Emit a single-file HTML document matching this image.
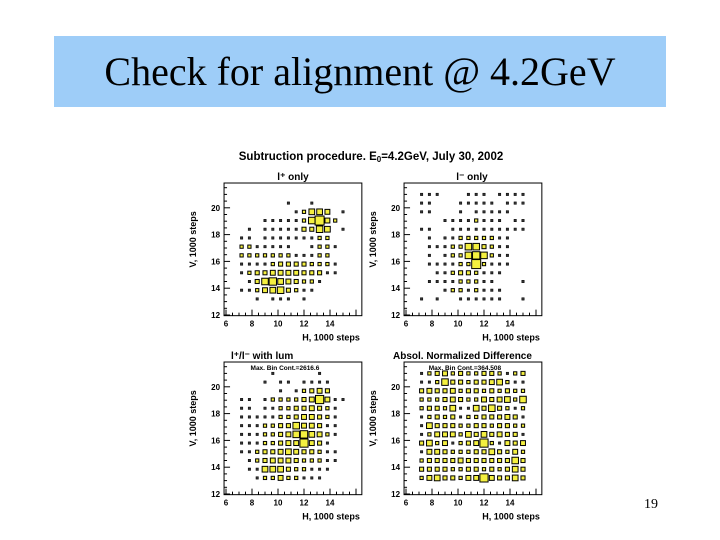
<!DOCTYPE html>
<html><head><meta charset="utf-8">
<style>
html,body{margin:0;padding:0;background:#fff;width:720px;height:540px;overflow:hidden}
#title{position:absolute;left:54px;top:36px;width:612px;height:71px;background:#9ecdf8;font-family:"Liberation Serif",serif;font-size:40px;text-align:center;line-height:71px;color:#000}
#pg{position:absolute;left:644px;top:497px;font-family:"Liberation Serif",serif;font-size:14px}
svg{position:absolute;left:0;top:0}
svg text{font-family:"Liberation Sans",sans-serif;font-weight:bold}
</style></head><body>
<div id="title">Check for alignment @ 4.2GeV</div>
<div id="pg">19</div>
<svg id="s" width="720" height="540">
<text x="371" y="160" font-size="11.5" text-anchor="middle">Subtruction procedure. E<tspan font-size="8" dy="2">0</tspan><tspan dy="-2">=4.2GeV, July 30, 2002</tspan></text>
</svg>
<script>
const xTicks=[6,8,10,12,14];
const yTicks=[12,14,16,18,20];
const binX=[7.2,7.8,8.4,9.0,9.6,10.2,10.8,11.4,12.0,12.6,13.2,13.8,14.4,15.0];
const binY=[21.0,20.35,19.7,19.05,18.4,17.75,17.1,16.45,15.8,15.15,14.5,13.85,13.2];
const lplus=[
[0,0,0,0,0,0,0,0,0,0,0,0,0,0],
[0,0,0,0,0,0,1,0,0,1,0,0,0,0],
[0,0,0,0,0,0,0,1,2,5,5,4,0,1],
[0,0,0,1,1,1,1,1,2,6,9,4,2,0],
[0,1,0,1,1,1,1,1,3,3,6,5,0,1],
[1,1,0,1,1,1,1,1,1,1,2,2,0,0],
[2,2,1,1,1,1,1,0,0,1,2,2,1,0],
[2,2,2,2,2,2,2,1,1,1,2,2,0,0],
[1,1,1,1,2,3,3,3,3,2,2,2,1,0],
[1,2,3,3,4,4,4,4,3,3,3,1,1,0],
[0,1,3,6,7,5,4,3,2,2,1,0,0,0],
[1,1,2,4,5,6,3,2,1,1,0,0,0,0],
[0,0,1,0,1,1,1,0,1,0,0,0,0,0]];
const lminus=[
[1,1,1,0,0,0,1,1,1,0,1,1,1,1],
[1,1,0,0,0,1,1,1,1,1,0,1,1,1],
[1,1,0,0,0,1,0,1,1,1,1,1,0,0],
[0,0,0,1,1,1,1,2,1,1,1,0,1,1],
[1,1,0,0,1,1,1,1,1,1,1,1,1,1],
[0,1,0,1,1,2,2,2,2,2,1,1,0,0],
[0,1,1,1,2,2,6,6,3,2,1,1,0,0],
[0,1,0,1,2,2,6,7,6,2,1,1,0,0],
[0,1,1,1,1,2,2,9,2,1,1,1,0,0],
[0,0,1,1,2,3,3,2,1,1,1,0,0,0],
[0,1,1,1,1,2,2,2,1,1,0,0,0,1],
[0,0,0,1,2,2,1,2,1,1,1,0,0,0],
[1,0,1,0,0,1,1,1,1,1,1,0,0,1]];
const lum=[
[0,0,0,0,1,0,0,0,0,0,1,0,0,0],
[0,0,0,1,0,1,1,0,1,1,1,1,0,0],
[0,0,0,0,0,1,0,1,2,3,4,3,0,0],
[1,1,0,1,2,2,2,2,3,4,8,4,1,1],
[1,1,0,1,1,2,2,3,3,4,3,2,1,0],
[1,1,1,1,1,2,2,3,4,4,3,2,1,0],
[1,1,1,2,2,3,3,6,4,4,3,1,1,0],
[1,1,1,2,2,3,4,6,7,5,4,2,1,0],
[1,1,1,2,2,3,4,4,8,4,3,1,0,0],
[1,1,2,3,3,4,5,4,3,3,2,1,1,0],
[0,1,2,3,4,4,4,3,2,2,2,1,1,0],
[0,1,1,5,5,5,3,2,2,1,1,1,0,0],
[0,0,1,2,2,4,2,2,1,1,1,0,0,0]];
const diff=[
[1,2,3,4,2,3,2,2,3,3,2,1,2,3],
[1,1,2,6,3,3,2,3,3,4,5,2,1,1],
[3,4,3,3,4,2,3,3,2,3,2,3,2,2],
[2,2,2,3,4,3,2,2,4,3,4,5,2,6],
[2,3,3,2,5,1,1,5,3,6,3,2,1,2],
[1,2,3,2,3,1,2,2,3,3,3,4,3,1],
[1,5,3,3,3,2,2,3,3,2,3,3,2,2],
[1,2,4,4,4,2,5,3,5,3,4,3,3,1],
[3,5,2,4,1,2,3,4,8,2,1,4,3,4],
[1,4,4,3,2,2,2,3,3,5,3,2,4,2],
[2,3,3,3,3,4,3,3,3,3,3,3,6,3],
[3,3,3,3,2,2,3,3,2,3,2,3,5,3],
[2,4,5,3,3,2,4,4,8,4,3,3,5,3]];
const panels=[
 {name:'lplus-panel',data:lplus,x6:226,y12:315,title:'l⁺ only',tx:293,tAnchor:'middle',max:null},
 {name:'lminus-panel',data:lminus,x6:406,y12:315,title:'l⁻ only',tx:472,tAnchor:'middle',max:null},
 {name:'lum-panel',data:lum,x6:226,y12:494,title:'l⁺/l⁻ with lum',tx:231,tAnchor:'start',max:'Max. Bin Cont.=2616.6'},
 {name:'difference-panel',data:diff,x6:406,y12:494,title:'Absol. Normalized Difference',tx:393,tAnchor:'start',max:'Max. Bin Cont.=364.508'}];
const NS='http://www.w3.org/2000/svg';
const svg=document.getElementById('s');
function mk(tag,attrs,parent){const e=document.createElementNS(NS,tag);for(const k in attrs)e.setAttribute(k,attrs[k]);(parent||svg).appendChild(e);return e;}
const SX=13.0, SY=13.4;
panels.forEach(p=>{
  const g=mk('g',{});
  
  
  const X=v=>p.x6+(v-6)*SX, Y=v=>p.y12-(v-12)*SY;
  const left=X(5.85), right=X(16.45), top=Y(21.85), bot=Y(11.95);
  const fr=mk('rect',{x:left,y:top,width:right-left,height:bot-top,fill:'#fff',stroke:'#000','stroke-width':1},g);
  
  
  for(let v=6;v<=16.4;v+=0.5){mk('line',{x1:X(v),x2:X(v),y1:bot,y2:bot-(v%2===0?6:3),stroke:'#000'},g);}
  for(let v=12;v<=21.8;v+=0.5){mk('line',{x1:left,x2:left+(v%2===0?6:3),y1:Y(v),y2:Y(v),stroke:'#000'},g);}
  xTicks.forEach(v=>{const t=mk('text',{x:X(v),y:bot+11,'font-size':8,'text-anchor':'middle'},g);t.textContent=v;
    });
  yTicks.forEach(v=>{const t=mk('text',{x:left-4,y:Y(v)+3,'font-size':8,'text-anchor':'end'},g);t.textContent=v;
    });
  p.data.forEach((row,j)=>row.forEach((v,i)=>{
    if(!v)return;
    const s=1.6+7.4*(v/9);
    const cx=X(binX[i]), cy=Y(binY[j]);
    const r=mk('rect',{x:cx-s/2,y:cy-s/2,width:s,height:s,fill:v>=2?'#f4f040':'#333',stroke:'#000','stroke-width':v>=2?1:0.5},g);
    
    
  }));
  const tt=mk('text',{x:p.tx,y:top-3,'font-size':10,'text-anchor':p.tAnchor},g);tt.textContent=p.title;
  
  if(p.max){const m=mk('text',{x:(left+right)/2-8,y:top+8,'font-size':6.5,'text-anchor':'middle','font-weight':'normal'},g);m.textContent=p.max;
    }
  const xl=mk('text',{x:right-2,y:bot+25,'font-size':9,'text-anchor':'end'},g);xl.textContent='H, 1000 steps';
  
  const yx=left-28, yy=(top+bot)/2-10;
  const yl=mk('text',{x:yx,y:yy,'font-size':9,'text-anchor':'middle',transform:`rotate(-90 ${yx} ${yy})`},g);yl.textContent='V, 1000 steps';
  
});
</script>
</body></html>
